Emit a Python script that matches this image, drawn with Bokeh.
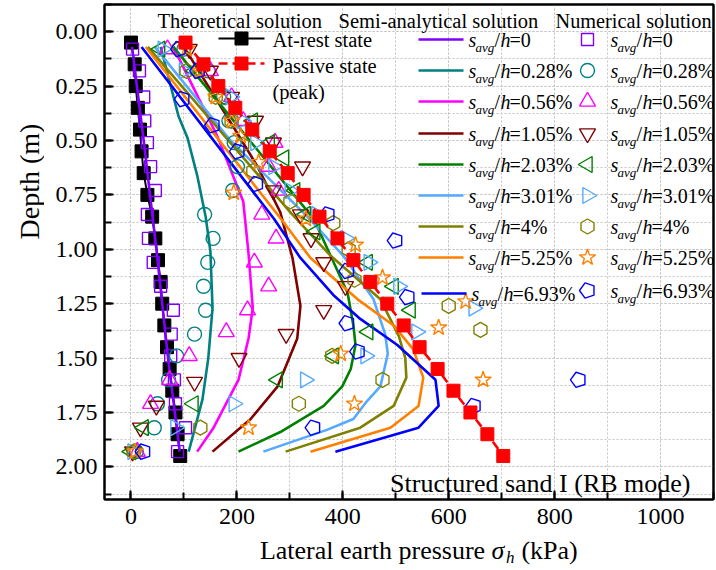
import numpy as np
from bokeh.plotting import figure
from bokeh.models import Range1d, SingleIntervalTicker, NumeralTickFormatter, Label, LinearAxis, FixedTicker
from bokeh.layouts import row, column
from bokeh.embed import file_html
from bokeh.resources import INLINE

FONT = "Liberation Serif"

# ---------------- data ----------------
# Theoretical solution
theory_depth = [0.05, 0.15, 0.25, 0.35, 0.45, 0.55, 0.65, 0.75, 0.85, 0.95,
                1.05, 1.15, 1.25, 1.35, 1.45, 1.55, 1.65, 1.75, 1.85, 1.95]
at_rest = [0, 7, 9, 13, 17, 20, 24, 31, 40, 46, 51, 56, 59, 63, 68, 73, 78, 84, 88, 93]
passive = [103, 137, 165, 197, 229, 262, 296, 326, 356, 390, 420, 452, 484, 515,
           545, 579, 609, 641, 673, 703]

# Semi-analytical solution (lines)
sa0_d = [0.07, 0.5, 1.0, 1.5, 1.93]
sa0_p = [2, 24, 48, 70, 92]
sa028_d = [0.07, 0.39, 0.49, 0.66, 0.85, 1.01, 1.27, 1.5, 1.69, 1.93]
sa028_p = [56, 90, 107, 125, 141, 150, 154, 146, 135, 109]
sa056_d = [0.07, 0.48, 0.78, 1.02, 1.27, 1.41, 1.6, 1.82, 1.93]
sa056_p = [80, 163, 212, 222, 230, 222, 203, 156, 125]
sa105_d = [0.07, 0.46, 0.62, 0.83, 1.04, 1.26, 1.41, 1.63, 1.78, 1.93]
sa105_p = [100, 199, 239, 282, 305, 320, 314, 277, 226, 154]
sa203_d = [0.07, 0.41, 0.86, 1.03, 1.2, 1.35, 1.44, 1.55, 1.63, 1.72, 1.84, 1.93]
sa203_p = [80, 194, 345, 377, 409, 420, 424, 415, 399, 364, 282, 203]
sa301_d = [0.07, 0.5, 0.85, 1.03, 1.23, 1.39, 1.48, 1.63, 1.70, 1.78, 1.83, 1.93]
sa301_p = [45, 188, 333, 401, 458, 480, 485, 471, 445, 420, 370, 250]
sa4_d = [0.07, 0.83, 1.03, 1.23, 1.40, 1.5, 1.59, 1.72, 1.82, 1.93]
sa4_p = [32, 301, 377, 471, 506, 518, 520, 496, 433, 292]
sa525_d = [0.07, 0.86, 1.04, 1.23, 1.35, 1.46, 1.59, 1.72, 1.82, 1.93]
sa525_p = [28, 283, 339, 428, 496, 533, 552, 543, 490, 339]
sa693_d = [0.07, 0.86, 1.04, 1.21, 1.32, 1.44, 1.60, 1.72, 1.82, 1.93]
sa693_p = [20, 270, 320, 382, 433, 503, 575, 581, 543, 386]

# Numerical solution (markers)
nu0_d = [0.08, 0.18, 0.30, 0.41, 0.51, 0.62, 0.73, 0.84, 0.95, 1.06, 1.17, 1.28, 1.39,
         1.49, 1.60, 1.71, 1.82, 1.93]
nu0_p = [3, 16, 24, 26, 31, 37, 46, 31, 33, 42, 56, 80, 76, 75, 82, 84, 103, 88]
nu028_d = [0.08, 0.18, 0.30, 0.41, 0.51, 0.62, 0.73, 0.84, 0.95, 1.06, 1.17, 1.28, 1.39,
           1.49, 1.60, 1.71, 1.82, 1.93]
nu028_p = [100, 146, 175, 185, 195, 201, 192, 139, 155, 145, 137, 141, 120, 86, 71, 50, 44, 10]
nu056_d = [0.08, 0.18, 0.30, 0.41, 0.51, 0.62, 0.73, 0.84, 0.95, 1.06, 1.17, 1.28, 1.38,
           1.49, 1.60, 1.71, 1.93]
nu056_p = [69, 150, 190, 212, 272, 260, 279, 247, 274, 233, 260, 220, 180, 110, 73, 37, 12]
nu105_d = [0.08, 0.18, 0.30, 0.41, 0.51, 0.62, 0.73, 0.84, 0.95, 1.06, 1.17, 1.28, 1.39,
           1.50, 1.61, 1.72, 1.82, 1.93]
nu105_p = [110, 150, 190, 235, 269, 324, 269, 320, 340, 364, 405, 364, 293, 204, 120, 48, 18, 3]
nu203_d = [0.08, 0.18, 0.30, 0.41, 0.51, 0.58, 0.73, 0.84, 0.92, 1.06, 1.17, 1.28, 1.38,
           1.49, 1.60, 1.71, 1.82, 1.93]
nu203_p = [55, 120, 170, 230, 262, 289, 310, 330, 348, 447, 496, 528, 448, 383, 277, 118, 24, 0]
nu301_d = [0.08, 0.18, 0.30, 0.41, 0.51, 0.62, 0.73, 0.84, 0.95, 1.06, 1.17, 1.27, 1.38,
           1.49, 1.60, 1.71, 1.82, 1.93]
nu301_p = [60, 100, 188, 210, 235, 269, 300, 350, 405, 449, 505, 647, 539, 443, 329, 194, 84, 3]
nu4_d = [0.08, 0.18, 0.30, 0.41, 0.52, 0.64, 0.78, 0.88, 1.0, 1.14, 1.26, 1.37, 1.49,
         1.60, 1.71, 1.82, 1.93]
nu4_p = [90, 105, 160, 190, 210, 231, 301, 382, 411, 422, 600, 660, 380, 475, 317, 131, 5]
nu525_d = [0.08, 0.18, 0.30, 0.41, 0.48, 0.60, 0.74, 0.86, 0.98, 1.13, 1.24, 1.36, 1.48,
           1.60, 1.71, 1.82, 1.93]
nu525_p = [105, 130, 160, 190, 207, 241, 194, 330, 424, 475, 632, 581, 396, 665, 422, 222, 8]
nu693_d = [0.08, 0.18, 0.31, 0.43, 0.55, 0.70, 0.84, 0.96, 1.10, 1.22, 1.34, 1.47, 1.60,
           1.72, 1.82, 1.93]
nu693_p = [90, 126, 97, 154, 201, 236, 371, 499, 408, 522, 408, 428, 845, 647, 344, 23]

ratio_labels = ["=0", "=0.28%", "=0.56%", "=1.05%", "=2.03%", "=3.01%", "=4%", "=5.25%", "=6.93%"]
colors = ["#8000ff", "#008080", "#ff00ff", "#800000", "#008000", "#55aaff", "#808000",
          "#ff8000", "#0000ff"]

semi = [(sa0_d, sa0_p), (sa028_d, sa028_p), (sa056_d, sa056_p), (sa105_d, sa105_p),
        (sa203_d, sa203_p), (sa301_d, sa301_p), (sa4_d, sa4_p), (sa525_d, sa525_p),
        (sa693_d, sa693_p)]
num = [(nu0_d, nu0_p), (nu028_d, nu028_p), (nu056_d, nu056_p), (nu105_d, nu105_p),
       (nu203_d, nu203_p), (nu301_d, nu301_p), (nu4_d, nu4_p), (nu525_d, nu525_p),
       (nu693_d, nu693_p)]
# marker style: (marker, size, angle)
mstyle = [("square", 12, 0), ("circle", 14, 0), ("triangle", 16, 0),
          ("inverted_triangle", 16, 0), ("triangle", 16, np.pi / 2),
          ("triangle", 16, -np.pi / 2), ("hex", 15, np.pi / 2), ("star", 17, 0),
          ("pentagon", 8, 0)]

# ---------------- layout constants (pixels) ----------------
LEFT_W = 44          # left strip holding the y-axis title
BOT_H = 34           # bottom strip holding the x-axis title
W, H = 716, 570
X0, X1, Y0, Y1 = -50, 1100, -0.125, 2.15
L, R, T, B = 104, 713, 4, 499     # frame edges in page pixels
TXT_DY = -6                       # baseline correction for labels

p = figure(width=W - LEFT_W, height=H - BOT_H, output_backend="svg", toolbar_location=None,
           x_range=Range1d(X0, X1), y_range=Range1d(Y1, Y0),
           min_border_left=L - LEFT_W, min_border_right=W - R, min_border_top=T,
           min_border_bottom=H - BOT_H - B)
p.background_fill_color = "white"
p.border_fill_color = "white"
p.outline_line_color = "black"
p.outline_line_width = 2

xa = p.xaxis[0]
ya = p.yaxis[0]
xa.ticker = SingleIntervalTicker(interval=200, num_minor_ticks=2)
ya.ticker = SingleIntervalTicker(interval=0.25, num_minor_ticks=2)
ya.formatter = NumeralTickFormatter(format="0.00")
for ax in (xa, ya):
    ax.axis_line_width = 2
    ax.axis_line_color = "black"
    ax.major_tick_in = 9
    ax.major_tick_out = 0
    ax.minor_tick_in = 7
    ax.minor_tick_out = 0
    ax.major_tick_line_width = 2
    ax.minor_tick_line_width = 2
    ax.major_label_text_font = FONT
    ax.major_label_text_font_size = "24px"
    ax.major_label_text_color = "black"
xa.major_label_standoff = 9
ya.major_label_standoff = 7

# plain frame lines on top and right
for side in ("above", "right"):
    fa = LinearAxis(ticker=FixedTicker(ticks=[]), axis_line_width=2, axis_line_color="black",
                    major_tick_in=0, major_tick_out=0, minor_tick_in=0, minor_tick_out=0)
    p.add_layout(fa, side)

p.xgrid[0].ticker = xa.ticker
p.ygrid[0].ticker = ya.ticker
for g in (p.xgrid[0], p.ygrid[0]):
    g.grid_line_color = "#c4c4c4"
    g.grid_line_dash = "2 2"
    g.grid_line_width = 1
    g.minor_grid_line_color = "#c4c4c4"
    g.minor_grid_line_dash = "2 2"
    g.minor_grid_line_width = 1


def draw_marker(xs, ys, k):
    m, s, a = mstyle[k]
    c = colors[k]
    if m == "pentagon":
        p.ngon(x=xs, y=ys, radius=s, radius_units="screen", n=5, angle=np.pi / 2,
               fill_color=None, line_color=c, line_width=1.4)
    else:
        p.scatter(x=xs, y=ys, marker=m, size=s, angle=a, fill_color=None,
                  line_color=c, line_width=1.4)


# theoretical at-rest
p.line(at_rest, theory_depth, line_color="black", line_width=2)
p.scatter(at_rest, theory_depth, marker="square", size=13, fill_color="black",
          line_color="black")

# semi-analytical lines
for k, (d, v) in enumerate(semi):
    p.line(v, d, line_color=colors[k], line_width=2.6)

# numerical markers
for k, (d, v) in enumerate(num):
    draw_marker(v, d, k)

# passive
p.line(passive, theory_depth, line_color="#ff0000", line_width=2.6, line_dash="9 5")
p.scatter(passive, theory_depth, marker="square", size=13, fill_color="#ff0000",
          line_color="#ff0000")


# ---------------- legend / texts (pixel layout helpers) ----------------
def dx(px):
    return X0 + (px - L) / (R - L) * (X1 - X0)


def dy(py):
    return Y0 + (py - T) / (B - T) * (Y1 - Y0)


def lab(px, py, text, size=20, style="normal", align="left", fig=None, conv=None):
    fig = fig or p
    if conv is None:
        x, y = dx(px), dy(py + TXT_DY)
    else:
        x, y = conv(px, py + TXT_DY)
    fig.add_layout(Label(x=x, y=y, text=text, text_font=FONT,
                         text_font_size=f"{size}px", text_font_style=style,
                         text_align=align, text_baseline="alphabetic",
                         text_color="black"))


def savg(px, pyc, rest):
    base = pyc + 6
    lab(px, base, "s", 20, "italic")
    lab(px + 7, pyc + 14, "avg", 13, "italic")
    lab(px + 26, base, "/", 20)
    lab(px + 32, base, "h", 20, "italic")
    lab(px + 41, base, rest, 20)


lab(157, 26, "Theoretical solution", 20.5)
lab(338, 26, "Semi-analytical solution", 20.5)
lab(555, 26, "Numerical solution", 20.3)

# theoretical legend
p.line([dx(218), dx(264)], [dy(38), dy(38)], line_color="black", line_width=2)
p.scatter([dx(241)], [dy(38)], marker="square", size=13, fill_color="black",
          line_color="black")
lab(272, 45, "At-rest state", 20.5)
p.line([dx(218), dx(264)], [dy(63), dy(63)], line_color="#ff0000", line_width=2.6,
       line_dash="9 5")
p.scatter([dx(241)], [dy(63)], marker="square", size=13, fill_color="#ff0000",
          line_color="#ff0000")
lab(272, 71, "Passive state", 20.5)
lab(272, 97, "(peak)", 20.5)

rows = [39, 70, 101, 133, 164, 195, 226, 257, 290]
for k, yc in enumerate(rows):
    offx, offy = (3, 3) if k == 8 else (0, 0)
    p.line([dx(418 + offx), dx(463 + offx)], [dy(yc + offy), dy(yc + offy)],
           line_color=colors[k], line_width=2.6)
    savg(468 + offx, yc + offy, ratio_labels[k])
    draw_marker([dx(587)], [dy(yc)], k)
    savg(610, yc, ratio_labels[k])

lab(690, 489, "Structured sand I (RB mode)", 26, align="right")

# ---------------- left strip: y-axis title ----------------
left = figure(width=LEFT_W, height=H, output_backend="svg", toolbar_location=None,
              x_range=Range1d(0, LEFT_W), y_range=Range1d(0, H),
              x_axis_type=None, y_axis_type=None, min_border=0)
left.outline_line_color = None
left.background_fill_color = "white"
left.border_fill_color = "white"
left.add_layout(Label(x=29, y=H - 181, text="Depth (m)", angle=np.pi / 2,
                      text_font=FONT, text_font_size="28px", text_align="center",
                      text_baseline="middle", text_color="black"))

# ---------------- bottom strip: x-axis title ----------------
bottom = figure(width=W - LEFT_W, height=BOT_H, output_backend="svg", toolbar_location=None,
                x_range=Range1d(0, W - LEFT_W), y_range=Range1d(0, BOT_H),
                x_axis_type=None, y_axis_type=None, min_border=0)
bottom.outline_line_color = None
bottom.background_fill_color = "white"
bottom.border_fill_color = "white"


def bconv(px, py):
    return px - LEFT_W, H - py


lab(464, 556, "Lateral earth pressure", 26, align="right", fig=bottom, conv=bconv)
lab(471, 556, "σ", 26, "italic", fig=bottom, conv=bconv)
lab(487, 563, "h", 17, "italic", fig=bottom, conv=bconv)
lab(504, 556, "(kPa)", 26, fig=bottom, conv=bconv)

layout = row(left, column(p, bottom, spacing=0), spacing=0)
open("out.html", "w").write(file_html(layout, INLINE))
